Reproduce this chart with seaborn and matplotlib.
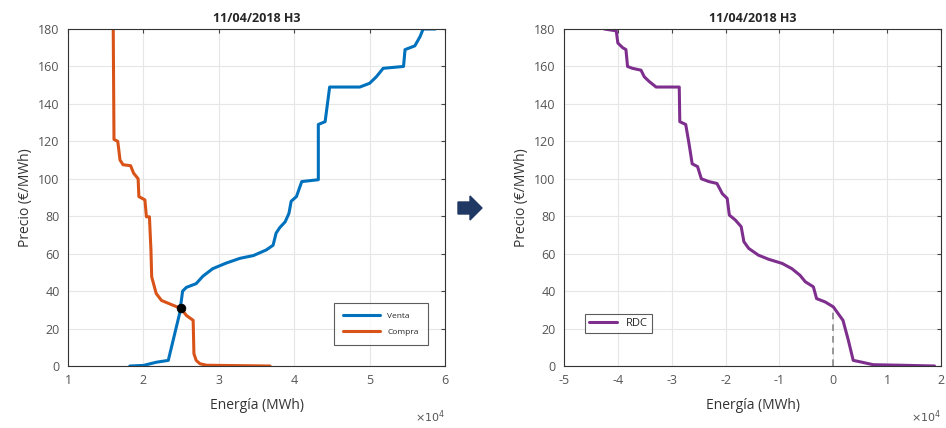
import matplotlib
matplotlib.use("Agg")
import matplotlib.pyplot as plt
import matplotlib.ticker as mticker
from matplotlib.patches import FancyArrow
import seaborn as sns
import pandas as pd

# ---- data (energy in MWh, price in EUR/MWh) ----
venta_e = [18200, 20000, 21700, 23300, 24800, 25200, 25700, 27000, 27900, 29200,
           31000, 32800, 34600, 36300, 37200, 37600, 38100, 38800, 39300, 39600,
           40300, 41000, 43200, 43200, 44100, 44700, 48700, 50000, 50900, 51800,
           54500, 54700, 56000, 56700, 57100, 58700]
venta_p = [0, 0.3, 2, 3, 28, 40, 42, 44, 48, 52,
           55, 57.5, 59, 62, 64.5, 71, 74, 77, 81.5, 88,
           90.5, 98.5, 99.5, 129, 130.5, 149, 149, 151, 154.5, 159,
           160, 169, 171, 176, 180, 180]

compra_e = [16000, 16100, 16600, 16900, 17300, 18300, 18700, 19300, 19400, 20200,
            20400, 20800, 21000, 21100, 21700, 22400, 23900, 25000, 25700, 26600,
            26700, 27000, 27500, 28400, 36800]
compra_p = [180, 121, 120, 110, 107.5, 107, 103, 100, 90.5, 88.7,
            79.7, 79.7, 62, 47.6, 38.7, 35, 32.5, 30.7, 27, 24.4,
            6.6, 3, 1.2, 0.4, 0]

cruce_e = [25000]
cruce_p = [31.2]

rdc_e = [-42500, -40300, -40000, -39100, -38500, -38200, -37300, -35700, -35100, -34200,
         -32900, -28600, -28500, -27400, -26800, -26200, -25200, -24500, -23100, -21600,
         -20600, -19700, -19300, -18200, -17100, -16600, -15700, -13900, -12000, -9500,
         -7700, -6200, -5200, -3700, -3100, -1500, 0, 900, 1800, 2800,
         3700, 5200, 7400, 12600, 18800]
rdc_p = [180, 179, 172.5, 170, 169, 160, 159, 158, 154.5, 152,
         149, 149, 130.5, 129, 119, 108, 106.5, 100, 98.5, 97.5,
         92, 89.5, 80.6, 78, 74.4, 66.4, 62.8, 59.2, 57, 54.8,
         52, 48.5, 45, 42.3, 36, 34.2, 31.6, 28, 24.4, 13.7,
         3, 2.1, 0.7, 0.4, 0]

title = "11/04/2018 H3"
xlabel = "Energía (MWh)"
ylabel = "Precio (€/MWh)"
y_ticks = [0, 20, 40, 60, 80, 100, 120, 140, 160, 180]
x_ticks_left = [10000, 20000, 30000, 40000, 50000, 60000]
x_ticks_right = [-50000, -40000, -30000, -20000, -10000, 0, 10000, 20000]

BLUE = "#0072BD"
ORANGE = "#D95319"
PURPLE = "#7E2F8E"

sns.set_style("white")
plt.rcParams["font.family"] = ["Open Sans", "DejaVu Sans"]

fig = plt.figure(figsize=(9.46, 4.28), dpi=100)
ax1 = fig.add_axes([68/946, 1-366/428, 377/946, 337/428])
ax2 = fig.add_axes([564/946, 1-366/428, 377/946, 337/428])

df_v = pd.DataFrame({"e": venta_e, "p": venta_p})
df_c = pd.DataFrame({"e": compra_e, "p": compra_p})
df_r = pd.DataFrame({"e": rdc_e, "p": rdc_p})

sns.lineplot(data=df_v, x="e", y="p", sort=False, estimator=None, ax=ax1,
             color=BLUE, lw=2.2, label="Venta")
sns.lineplot(data=df_c, x="e", y="p", sort=False, estimator=None, ax=ax1,
             color=ORANGE, lw=2.2, label="Compra")
sns.scatterplot(x=cruce_e, y=cruce_p, ax=ax1, color="black", s=40, zorder=5,
                edgecolor="black")

sns.lineplot(data=df_r, x="e", y="p", sort=False, estimator=None, ax=ax2,
             color=PURPLE, lw=2.2, label="RDC")
ax2.plot([0, 0], [0, 31.6], ls=(0, (4, 3)), color="#888888", lw=1.2, zorder=1)

for ax, xt in ((ax1, x_ticks_left), (ax2, x_ticks_right)):
    ax.set_xlim(xt[0], xt[-1])
    ax.set_ylim(0, 180)
    ax.set_xticks(xt)
    ax.set_yticks(y_ticks)
    fmt = mticker.ScalarFormatter(useMathText=True)
    fmt.set_powerlimits((0, 0))
    ax.xaxis.set_major_formatter(fmt)
    ax.xaxis.get_offset_text().set_visible(False)
    ax.set_xticklabels([str(int(v / 10000)) for v in xt])
    ax.grid(True, color="#e6e6e6", lw=0.8)
    ax.tick_params(direction="in", length=3, labelsize=9, colors="#444444",
                   labelcolor="#555555", top=True, right=True, pad=6)
    for s in ax.spines.values():
        s.set_color("#333333")
        s.set_linewidth(0.8)
    ax.set_title(title, fontsize=9, fontweight="bold", pad=5)
    ax.set_xlabel(xlabel, fontsize=10, color="#333333", labelpad=8)
    ax.set_ylabel(ylabel, fontsize=10, color="#333333", labelpad=4)
    ax.text(1.0, -0.125, r"$\times10^4$", transform=ax.transAxes, ha="right",
            va="top", fontsize=8, color="#555555")

leg1 = ax1.legend(loc="lower right", bbox_to_anchor=(0.965, 0.05), fontsize=6,
                  frameon=True, fancybox=False, handlelength=4.5, borderpad=1.1,
                  labelspacing=1.0)
leg1.get_frame().set_edgecolor("#333333")
leg1.get_frame().set_linewidth(0.8)
leg2 = ax2.legend(loc="lower left", bbox_to_anchor=(0.04, 0.08), fontsize=8,
                  frameon=True, fancybox=False, handlelength=2.5, borderpad=0.4)
leg2.get_frame().set_edgecolor("#333333")
leg2.get_frame().set_linewidth(0.8)

arrow = FancyArrow(458/946, 1-208/428, 24/946, 0, width=12/428,
                   head_width=24/428, head_length=12/946,
                   length_includes_head=True, transform=fig.transFigure,
                   color="#1F3864")
fig.patches.append(arrow)

fig.savefig("out.png", dpi=100)
